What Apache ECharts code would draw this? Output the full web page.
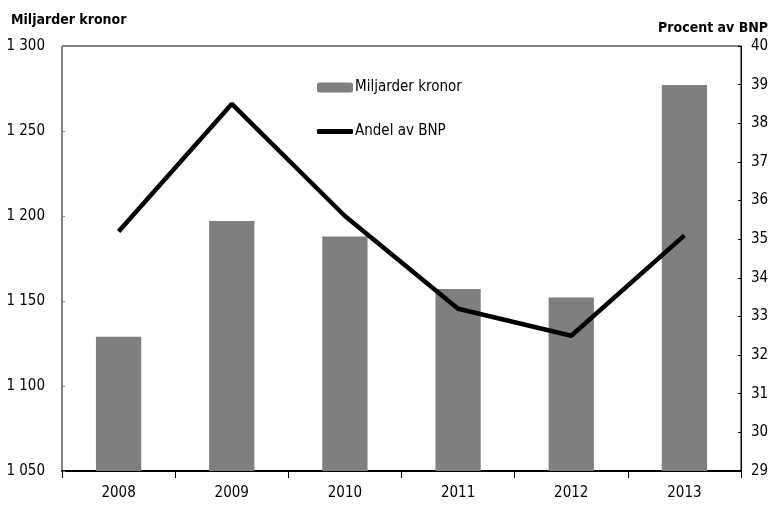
<!DOCTYPE html>
<html><head><meta charset="utf-8">
<script src="https://cdn.jsdelivr.net/npm/echarts@6/dist/echarts.min.js"></script>
<style>html,body{margin:0;padding:0;background:#fff}#c{width:775px;height:506px}</style>
</head><body><div id="c"></div>
<script>
const years = ['2008','2009','2010','2011','2012','2013'];
const miljarder = [1129, 1197, 1188, 1157, 1152, 1277];
const andelBNP = [35.2, 38.5, 35.6, 33.2, 32.5, 35.1];
const leftTitle = 'Miljarder kronor';
const rightTitle = 'Procent av BNP';
const barName = 'Miljarder kronor';
const lineName = 'Andel av BNP';

const FONT = '"Liberation Sans Narrow", "DejaVu Sans Condensed", "Roboto Condensed", sans-serif';
const chart = echarts.init(document.getElementById('c'));
const fmt = v => String(v).replace(/\B(?=(\d{3})+(?!\d))/g, ' ');
chart.setOption({
  animation: false,
  textStyle: {fontFamily: FONT, color: '#000'},
  grid: {left: 62, right: 34, top: 46, bottom: 35, show: true, borderColor: '#000', borderWidth: 1},
  title: [
    {text: leftTitle, left: 6, top: 8, textStyle: {fontFamily: FONT, fontSize: 14, fontWeight: 'bold', color: '#000'}},
    {text: rightTitle, right: 2, top: 16, textStyle: {fontFamily: FONT, fontSize: 14, fontWeight: 'bold', color: '#000'}}
  ],
  legend: [
    {data: [barName], orient: 'vertical', left: 312, top: 75, itemWidth: 36, itemHeight: 10, itemGap: 4,
     textStyle: {fontFamily: FONT, fontSize: 15, color: '#000', padding: [0,0,0,-3]}},
    {data: [{name: lineName, icon: 'roundRect'}], left: 312, top: 119, itemWidth: 36, itemHeight: 5,
     textStyle: {fontFamily: FONT, fontSize: 15, color: '#000', padding: [0,0,0,-3]}}
  ],
  xAxis: {
    type: 'category', data: years,
    axisLine: {lineStyle: {color: '#000', width: 2}},
    axisTick: {show: true, length: 7, lineStyle: {color: '#000'}},
    axisLabel: {fontFamily: FONT, fontSize: 15, color: '#000', margin: 15}
  },
  yAxis: [
    {type: 'value', min: 1050, max: 1300, interval: 50,
     axisLine: {show: true, lineStyle: {color: '#888'}},
     axisTick: {show: true, inside: true, length: 3, lineStyle: {color: '#888'}},
     splitLine: {show: false},
     axisLabel: {fontFamily: FONT, fontSize: 15, color: '#000', margin: 17, formatter: fmt}},
    {type: 'value', min: 29, max: 40, interval: 1, position: 'right',
     axisLine: {show: true, lineStyle: {color: '#000'}},
     axisTick: {show: true, inside: true, length: 3, lineStyle: {color: '#000'}},
     splitLine: {show: false},
     axisLabel: {fontFamily: FONT, fontSize: 15, color: '#000', margin: 10}}
  ],
  series: [
    {name: barName, type: 'bar', data: miljarder, barWidth: '40%', itemStyle: {color: '#7f7f7f'}, z: 1},
    {name: lineName, type: 'line', yAxisIndex: 1, data: andelBNP, symbol: 'none',
     lineStyle: {color: '#000', width: 4.5}, itemStyle: {color: '#000'}, z: 3}
  ]
});
</script></body></html>
